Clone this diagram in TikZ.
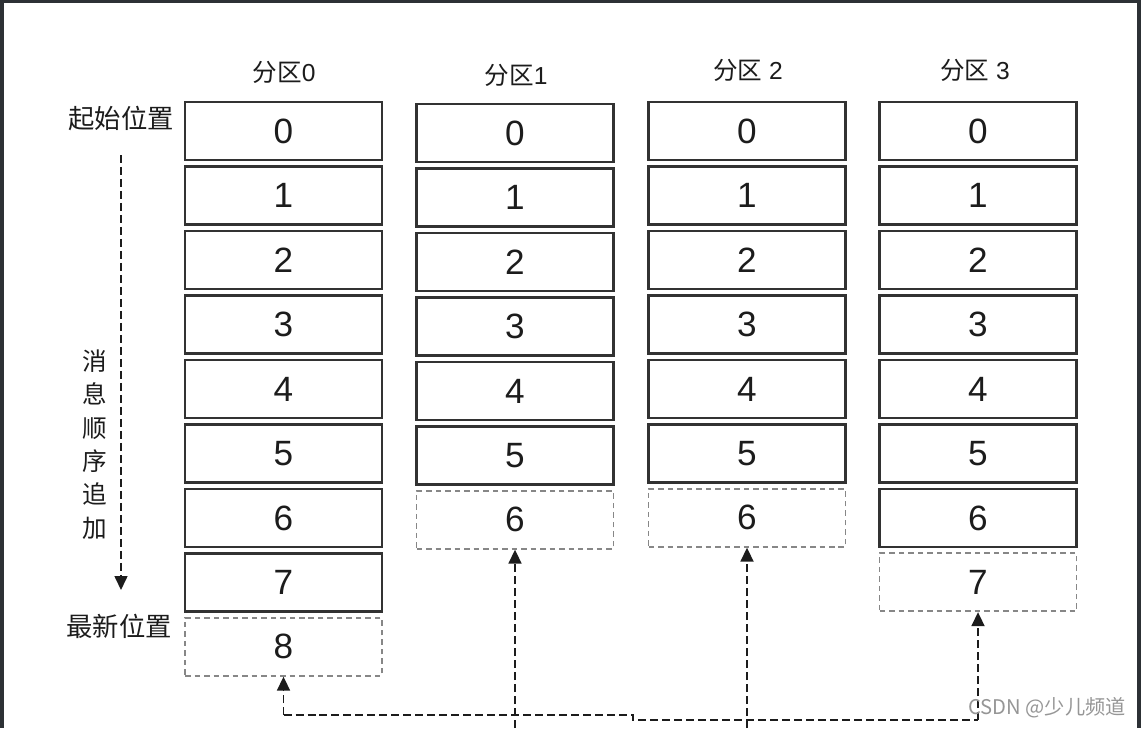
\documentclass[tikz,border=0pt]{standalone}
\usepackage{fontspec}
\setmainfont{Liberation Sans}
\newfontfamily\cjk{Noto Sans CJK SC}
\usetikzlibrary{arrows.meta, positioning, shadows}
\definecolor{frameDark}{RGB}{45,49,53}
\definecolor{cellLine}{RGB}{50,50,50}
\definecolor{newLine}{RGB}{135,135,135}
\definecolor{inkText}{RGB}{28,28,28}
\definecolor{markGray}{RGB}{150,150,150}
\newcommand{\zh}[1]{{\cjk #1}}
\tikzset{
    cellbase/.style={
        rectangle,
        fill=white,
        minimum width=3.94cm,
        minimum height=1.16cm,
        text=inkText,
        font=\fontsize{20}{24}\selectfont
    },
    cellbox/.style={
        cellbase,
        draw=cellLine,
        line width=1.2pt,
        drop shadow={opacity=0.18, shadow xshift=0.02cm, shadow yshift=-0.03cm}
    },
    newbox/.style={
        cellbase,
        draw=newLine,
        line width=1pt,
        dash pattern=on 0.11cm off 0.08cm
    },
    parthead/.style={text=inkText, font=\fontsize{14}{16}\selectfont},
    poslabel/.style={text=inkText, font=\cjk\fontsize{15}{18}\selectfont},
    ordertext/.style={text=inkText, align=center, font=\cjk\fontsize{14}{19}\selectfont},
    seqarrow/.style={-{Triangle[length=0.28cm, width=0.26cm]}, line width=0.9pt, draw=inkText, dash pattern=on 0.16cm off 0.08cm},
    pushline/.style={line width=1pt, draw=inkText, dash pattern=on 0.16cm off 0.08cm},
    pusharrow/.style={pushline, -{Triangle[length=0.28cm, width=0.26cm]}}
}
\begin{document}
\begin{tikzpicture}[x=0.02cm, y=0.02cm, node distance=0.088cm]
    \useasboundingbox (0,0) rectangle (1141,728);
    \fill[frameDark] (0,0) rectangle (1141,728);
    \fill[white] (4,0) rectangle (1137,725);
    % partitions: column / x / y of first cell / last written offset
    \foreach \col/\x/\y/\n in {0/283.5/597/7, 1/515/595/5, 2/747/597/5, 3/978/597/6} {
        \node[cellbox] (p\col-0) at (\x,\y) {0};
        \foreach \r [remember=\r as \prev (initially 0)] in {1,...,\n}
            \node[cellbox, below=of p\col-\prev] (p\col-\r) {\r};
        \pgfmathtruncatemacro\nxt{\n+1}
        \node[newbox, below=of p\col-\n] (p\col-\nxt) {\nxt};
    }
    \node[parthead] (head0) at (284,656) {\zh{分区}0};
    \node[parthead] (head1) at (516,653) {\zh{分区}1};
    \node[parthead] (head2) at (748,658) {\zh{分区} 2};
    \node[parthead] (head3) at (975,658) {\zh{分区} 3};
    % offsets on the left
    \node[poslabel] (start) at (121,610) {起始位置};
    \node[poslabel] (latest) at (119,102) {最新位置};
    \node[ordertext] (order) at (95,283.5) {消\\息\\顺\\序\\追\\加};
    \coordinate (seqtop) at (121,573);
    \coordinate (seqend) at (121,138);
    \draw[seqarrow] (seqtop) -- (seqend);
    % new messages pushed in from below
    \coordinate (floor) at (0,0);
    \coordinate (busL) at (283.5,13);
    \coordinate (busM) at (633,13);
    \coordinate (busR) at (978,8);
    \draw[pushline] (busL) -- (busM) -- (busM |- busR) -- (busR);
    \draw[pusharrow] (busL) -- (p0-8.south);
    \draw[pusharrow] (busR) -- (p3-7.south);
    \draw[pusharrow] (p1-6.south |- floor) -- (p1-6.south);
    \draw[pusharrow] (p2-6.south |- floor) -- (p2-6.south);
    \node[text=markGray, font=\cjk\fontsize{11.5}{14}\selectfont] (mark) at (1047,20) {CSDN @少儿频道};
\end{tikzpicture}
\end{document}
